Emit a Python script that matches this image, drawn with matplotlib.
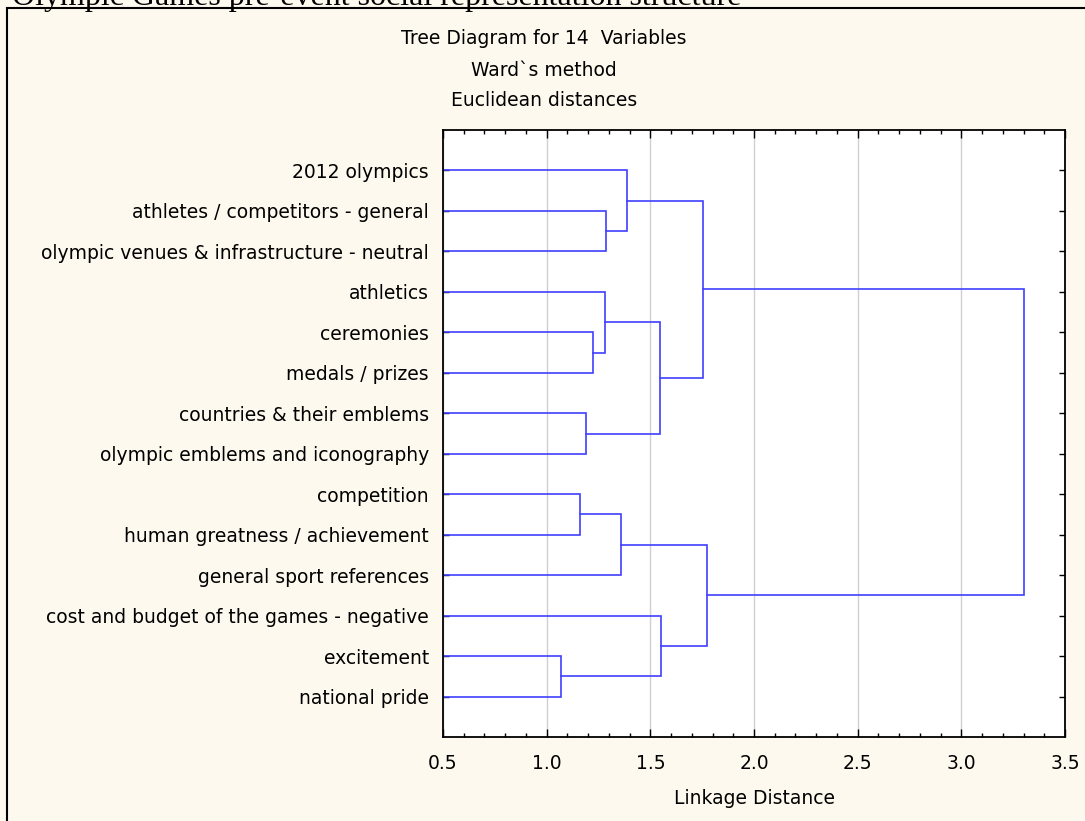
import matplotlib.pyplot as plt
from matplotlib.patches import Rectangle
from matplotlib.ticker import MultipleLocator

# leaves, top to bottom
leaf_labels = [
    "2012 olympics",
    "athletes / competitors - general",
    "olympic venues & infrastructure - neutral",
    "athletics",
    "ceremonies",
    "medals / prizes",
    "countries & their emblems",
    "olympic emblems and iconography",
    "competition",
    "human greatness / achievement",
    "general sport references",
    "cost and budget of the games - negative",
    "excitement",
    "national pride",
]

# Ward linkage: node ids 0..13 are leaves, 14.. are the merges in order
merge_left = [12, 8, 6, 4, 3, 1, 15, 0, 18, 11, 21, 20, 24]
merge_right = [13, 9, 7, 5, 17, 2, 10, 19, 16, 14, 22, 23, 25]
merge_height = [1.069, 1.161, 1.190, 1.225, 1.281, 1.288, 1.359,
                1.388, 1.547, 1.552, 1.753, 1.774, 3.303]

x_ticks = [0.5, 1.0, 1.5, 2.0, 2.5, 3.0, 3.5]

bg = "#fef9ee"
line_col = "#4040ff"
fs = 13.5
plt.rcParams['font.family'] = "DejaVu Sans"

W, H = 1085, 821
fig = plt.figure(figsize=(W / 100, H / 100), dpi=100, facecolor=bg)

# outer frame (cut off at right and bottom, like the source screenshot)
fig.patches.append(Rectangle((7 / W, -0.1), 1.2, 1 - 8 / H + 0.1,
                             transform=fig.transFigure, fill=False,
                             edgecolor="black", linewidth=1.5))
fig.text(12 / W, 1 - 5 / H, "Olympic Games pre-event social representation structure",
         family="Liberation Serif", fontsize=23, ha="left", va="baseline")

ax = fig.add_axes([443 / W, 1 - 737 / H, 622 / W, 607 / H])
ax.set_facecolor("white")

# walk the merges, parent sits midway between its two children
ypos = {i: i + 1 for i in range(len(leaf_labels))}
xpos = {i: 0.0 for i in range(len(leaf_labels))}
for k, (a, b, h) in enumerate(zip(merge_left, merge_right, merge_height)):
    node = len(leaf_labels) + k
    ya, yb = ypos[a], ypos[b]
    ax.plot([xpos[a], h, h, xpos[b]], [ya, ya, yb, yb],
            color=line_col, linewidth=1.2, solid_joinstyle="miter")
    ypos[node] = (ya + yb) / 2
    xpos[node] = h

ax.set_xlim(0.5, 3.5)
ax.set_ylim(len(leaf_labels) + 1, 0)
ax.set_xticks(x_ticks)
ax.set_xticklabels([f"{t:.1f}" for t in x_ticks])
ax.xaxis.set_minor_locator(MultipleLocator(0.1))
ax.set_yticks(range(1, len(leaf_labels) + 1))
ax.set_yticklabels(leaf_labels)
ax.grid(axis="x", color="#d0d0d0", linewidth=1.0)
ax.set_axisbelow(True)

ax.tick_params(axis="x", which="major", direction="in", length=6, width=1,
               top=True, labelsize=fs, pad=12)
ax.tick_params(axis="x", which="minor", direction="in", length=3, width=1, top=True)
ax.tick_params(axis="y", direction="in", length=4, width=1, right=True,
               labelsize=fs, pad=10)
for s in ax.spines.values():
    s.set_linewidth(1.3)

ax.set_xlabel("Linkage Distance", fontsize=fs, labelpad=12)

fig.text(544 / W, 1 - 38 / H, "Tree Diagram for 14  Variables", ha="center", va="center", fontsize=fs)
fig.text(544 / W, 1 - 70 / H, "Ward`s method", ha="center", va="center", fontsize=fs)
fig.text(544 / W, 1 - 101 / H, "Euclidean distances", ha="center", va="center", fontsize=fs)

fig.savefig("out.png", dpi=100, facecolor=bg)
